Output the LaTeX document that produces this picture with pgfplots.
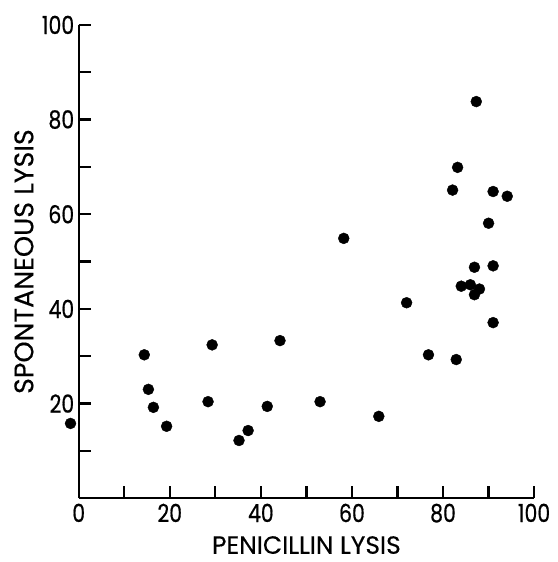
\documentclass[border=0pt]{standalone}
\usepackage{fontspec}
\setmainfont{Poppins}
\newfontfamily\tickfont{Poppins}[FakeStretch=0.82,FakeBold=0.6]
\newfontfamily\labfont{Poppins}[FakeBold=0.3]
\usepackage{pgfplots}
\pgfplotsset{compat=1.18}
\usetikzlibrary{calc}
\begin{document}
\begin{tikzpicture}
\begin{axis}[
    name=ax,
    scale only axis,
    width=457pt, height=475pt,
    xmin=0, xmax=100, ymin=0, ymax=100,
    axis x line*=bottom, axis y line*=left,
    x axis line style={-, line width=2.2pt},
    y axis line style={-, line width=2.2pt},
    clip=false,
    xtick={0,20,...,100}, minor xtick={10,30,...,90},
    ytick={20,40,...,100}, minor ytick={10,30,...,90},
    xtick align=inside, ytick align=inside,
    major tick length=12pt, minor tick length=12pt,
    major tick style={black, line width=2.2pt},
    minor tick style={black, line width=2.2pt},
    /pgf/number format/assume math mode=true,
    tick label style={font=\tickfont\fontsize{25}{25}\selectfont},
    xticklabel style={yshift=-2pt},
    yticklabel style={xshift=-1pt},
    every axis x label/.style={at={(axis description cs:0.5,0)}, anchor=center, yshift=-47pt},
    every axis y label/.style={at={(axis description cs:0,0.5)}, rotate=90, anchor=center, yshift=55pt},
    xlabel style={font=\labfont\fontsize{25}{25}\selectfont},
    ylabel style={font=\labfont\fontsize{27}{27}\selectfont},
    xlabel={PENICILLIN LYSIS},
    ylabel={SPONTANEOUS LYSIS},
]
\addplot[only marks, mark=*, mark size=5.5pt, black] coordinates {
    (-1.8,15.8) (14.4,30.3) (15.3,23.0) (16.4,19.2) (19.3,15.2)
    (28.4,20.4) (29.3,32.4) (35.2,12.2) (37.2,14.3) (41.4,19.4)
    (44.2,33.3) (53.0,20.4) (58.2,54.9) (65.9,17.3) (72.0,41.3)
    (76.8,30.3) (82.9,29.3) (82.1,65.1) (83.2,69.9) (87.3,83.8)
    (91.0,64.8) (94.1,63.8) (90.0,58.1) (86.9,48.8) (91.0,49.1)
    (84.0,44.8) (86.0,45.1) (88.0,44.2) (86.9,43.0) (91.0,37.1)
};
\end{axis}
\pgfresetboundingbox
\path[use as bounding box] ($(ax.south west)+(-79pt,-64pt)$) rectangle ($(ax.north east)+(23pt,25pt)$);
\end{tikzpicture}
\end{document}
